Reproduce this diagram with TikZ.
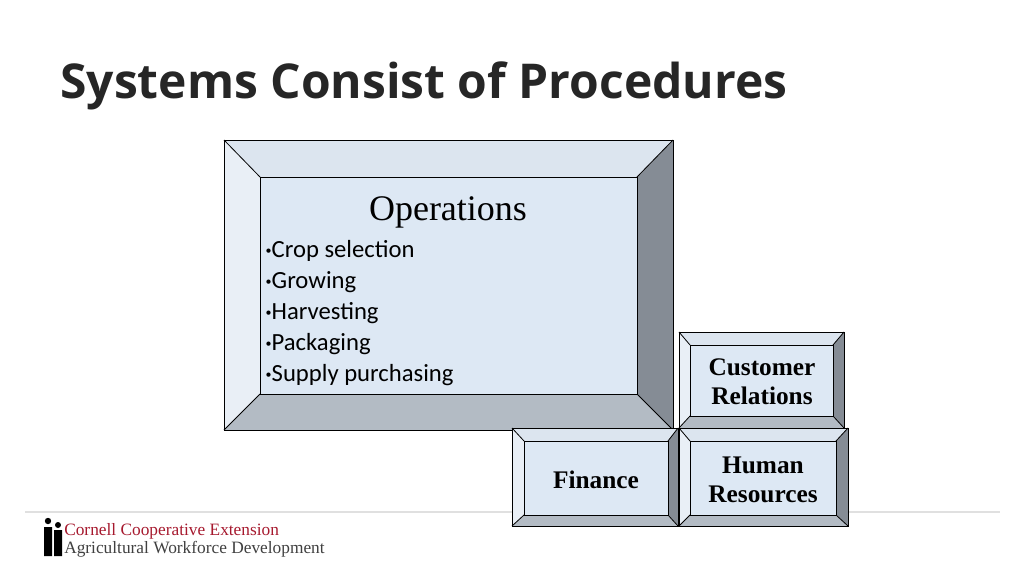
\documentclass[tikz,border=0pt]{standalone}
\usepackage{fontspec}
\setmainfont{Liberation Serif}
\newfontfamily\titlefont{Open Sans}
\newfontfamily\bodyfont{Carlito}
\definecolor{bvtop}{HTML}{DCE5EF}
\definecolor{bvleft}{HTML}{E9EFF6}
\definecolor{bvright}{HTML}{858C95}
\definecolor{bvbottom}{HTML}{B3BBC4}
\definecolor{bvface}{HTML}{DDE8F4}
\definecolor{cornellred}{HTML}{A6192E}
\tikzset{
  edge/.style={draw=black, line width=0.6pt},
  boxlabel/.style={font=\fontsize{19}{22}\selectfont\bfseries, align=center},
}
\newcommand\opbullet{\raisebox{2.5pt}{\small\textbullet}}
% bevelled box: #1 outer corner, #2 outer corner, #3 inner corner, #4 inner corner
\newcommand\bevelbox[4]{%
  \fill[bvtop] (#1) -- (#2 |- #1) -- (#4 |- #3) -- (#3) -- cycle;
  \fill[bvleft] (#1) -- (#3) -- (#3 |- #4) -- (#1 |- #2) -- cycle;
  \fill[bvright] (#2 |- #1) -- (#2) -- (#4) -- (#4 |- #3) -- cycle;
  \fill[bvbottom] (#1 |- #2) -- (#3 |- #4) -- (#4) -- (#2) -- cycle;
  \fill[bvface] (#3) rectangle (#4);
  \draw[edge] (#1) rectangle (#2);
  \draw[edge] (#3) rectangle (#4);
  \draw[edge] (#1) -- (#3) (#2) -- (#4) (#2 |- #1) -- (#4 |- #3) (#1 |- #2) -- (#3 |- #4);
}
\begin{document}
\begin{tikzpicture}[x=0.75pt, y=-0.75pt]
  \useasboundingbox (0,0) rectangle (1024,575);

  % Title
  \node[anchor=west, inner sep=0pt, font=\titlefont\fontsize{36}{40}\selectfont\bfseries, text=black!85] (title) at (60,86) {Systems Consist of Procedures};

  % Footer rule (behind the boxes)
  \draw[black!12, line width=0.8pt] (25,512) -- (1000,512);

  % Operations box
  \coordinate (opA) at (224,140); \coordinate (opB) at (673,430);
  \coordinate (opC) at (260,177); \coordinate (opD) at (637,394);
  \bevelbox{opA}{opB}{opC}{opD}
  \node[font=\fontsize{27}{30}\selectfont] (ops) at (448,212) {Operations};
  \node[anchor=north west, font=\bodyfont\fontsize{18.5}{23.2}\selectfont, align=left] (opslist) at (261,236)
    {\opbullet Crop selection\\ \opbullet Growing\\ \opbullet Harvesting\\ \opbullet Packaging\\ \opbullet Supply purchasing};

  % Customer Relations box
  \coordinate (crA) at (679,332); \coordinate (crB) at (844,428);
  \coordinate (crC) at (690,345); \coordinate (crD) at (833,416);
  \bevelbox{crA}{crB}{crC}{crD}
  \node[boxlabel] (cr) at (762,382) {Customer\\ Relations};

  % Finance box
  \coordinate (fiA) at (512,428); \coordinate (fiB) at (678,526);
  \coordinate (fiC) at (524,441); \coordinate (fiD) at (668,515);
  \bevelbox{fiA}{fiB}{fiC}{fiD}
  \node[boxlabel] (fi) at (596,480) {Finance};

  % Human Resources box
  \coordinate (hrA) at (679,428); \coordinate (hrB) at (848,526);
  \coordinate (hrC) at (690,441); \coordinate (hrD) at (836,515);
  \bevelbox{hrA}{hrB}{hrC}{hrD}
  \node[boxlabel] (hr) at (763,480) {Human\\ Resources};

  % Footer logo
  \fill[black] (48,521) circle (3.2) (58,525) circle (3);
  \fill[black] (44,527) rectangle (52,556) (54,530) rectangle (62,556);
  \node[anchor=south west, inner sep=0pt, text=cornellred, font=\fontsize{13}{14}\selectfont] (cce) at (64,539) {Cornell Cooperative Extension};
  \node[anchor=south west, inner sep=0pt, text=black!75, font=\fontsize{13}{14}\selectfont] (awd) at (64,557) {Agricultural Workforce Development};
\end{tikzpicture}
\end{document}
